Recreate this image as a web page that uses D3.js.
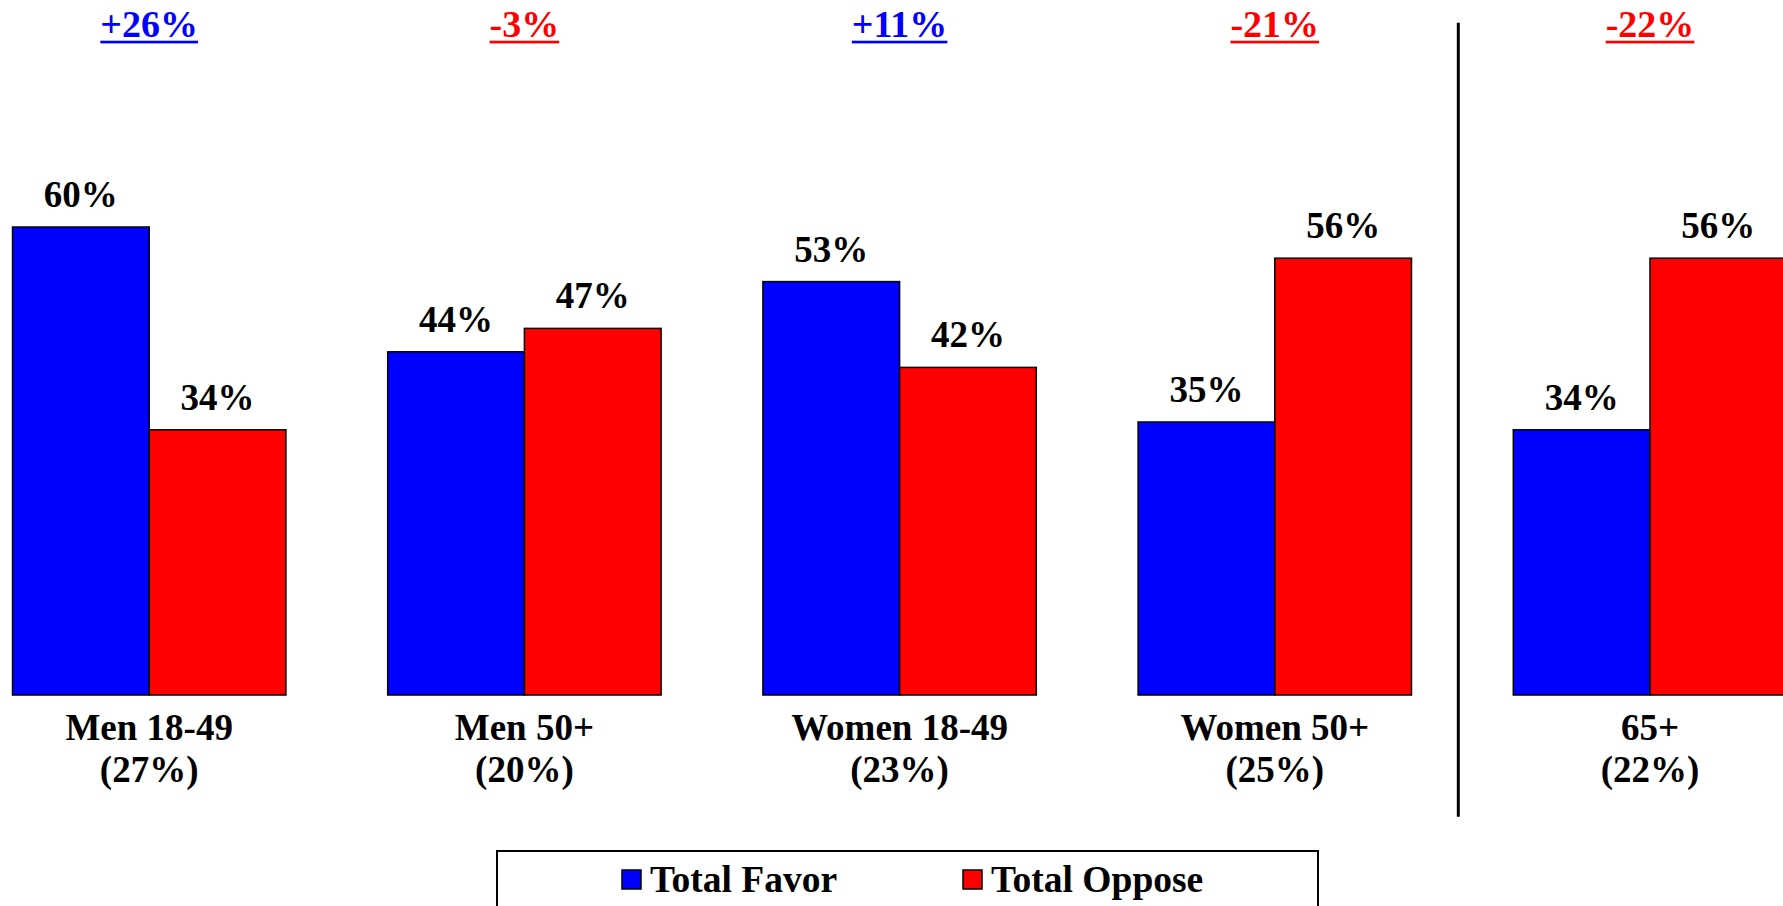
<!DOCTYPE html>
<html>
<head>
<meta charset="utf-8">
<script src="https://cdn.jsdelivr.net/npm/d3@7"></script>
<style>
  html, body { margin: 0; padding: 0; background: #fff; overflow: hidden; }
  svg { display: block; }
  text { font-family: "Liberation Serif", "Times New Roman", Times, serif; font-weight: bold; }
</style>
</head>
<body>
<svg id="chart" width="1783" height="906"></svg>
<script>
// ---- data ----
const categories = ["Men 18-49", "Men 50+", "Women 18-49", "Women 50+", "65+"];
const shares = ["(27%)", "(20%)", "(23%)", "(25%)", "(22%)"];
const seriesNames = ["Total Favor", "Total Oppose"];
const favor = [60, 44, 53, 35, 34];
const oppose = [34, 47, 42, 56, 56];
const seriesColors = ["#0000ff", "#ff0000"];

const svg = d3.select("#chart");

// ---- scales ----
const step = 375.2;
const pIn = (step - 273.4) / step;
const x0 = 12.5;
const x = d3.scaleBand()
  .domain(categories)
  .range([x0, x0 + step * (categories.length - pIn)])
  .paddingInner(pIn)
  .paddingOuter(0);
const xs = d3.scaleBand().domain(seriesNames).range([0, x.bandwidth()]).padding(0);
const y = d3.scaleLinear().domain([0, 60]).range([695, 227]);
const color = d3.scaleOrdinal().domain(seriesNames).range(seriesColors);

const rows = categories.map((c, i) => ({
  cat: c, share: shares[i],
  vals: [{s: seriesNames[0], v: favor[i]}, {s: seriesNames[1], v: oppose[i]}],
  diff: favor[i] - oppose[i]
}));

// ---- bars ----
const g = svg.selectAll("g.grp").data(rows).join("g")
  .attr("class", "grp")
  .attr("transform", d => `translate(${x(d.cat)},0)`);

g.selectAll("rect").data(d => d.vals).join("rect")
  .attr("x", d => xs(d.s))
  .attr("y", d => y(d.v))
  .attr("width", xs.bandwidth())
  .attr("height", d => y(0) - y(d.v))
  .attr("fill", d => color(d.s))
  .attr("stroke", "#000")
  .attr("stroke-width", 1.5);

// value labels
g.selectAll("text.val").data(d => d.vals).join("text")
  .attr("class", "val")
  .attr("x", d => xs(d.s) + xs.bandwidth() / 2)
  .attr("y", d => y(d.v) - 20)
  .attr("text-anchor", "middle")
  .attr("font-size", 37)
  .attr("fill", "#000")
  .text(d => d.v + "%");

// category labels
g.append("text")
  .attr("x", x.bandwidth() / 2)
  .attr("y", 740)
  .attr("text-anchor", "middle")
  .attr("font-size", 37)
  .text(d => d.cat);
g.append("text")
  .attr("x", x.bandwidth() / 2)
  .attr("y", 782)
  .attr("text-anchor", "middle")
  .attr("font-size", 37)
  .text(d => d.share);

// difference labels (underlined)
g.each(function(d) {
  const sel = d3.select(this);
  const col = d.diff > 0 ? "#0000ff" : "#ff0000";
  const t = sel.append("text")
    .attr("x", x.bandwidth() / 2)
    .attr("y", 37.3)
    .attr("text-anchor", "middle")
    .attr("font-size", 38)
    .attr("fill", col)
    .text((d.diff > 0 ? "+" : "") + d.diff + "%");
  const bb = t.node().getBBox();
  sel.append("rect")
    .attr("x", bb.x)
    .attr("y", 40.7)
    .attr("width", bb.width)
    .attr("height", 2.7)
    .attr("fill", col);
});

// separator line between Women 50+ and 65+
const sepX = x(categories[4]) - 55;
svg.append("line")
  .attr("x1", sepX).attr("x2", sepX)
  .attr("y1", 22.7).attr("y2", 816.7)
  .attr("stroke", "#000")
  .attr("stroke-width", 3);

// ---- legend ----
const leg = svg.append("g");
leg.append("rect")
  .attr("x", 497).attr("y", 851)
  .attr("width", 821).attr("height", 100)
  .attr("fill", "#fff")
  .attr("stroke", "#000")
  .attr("stroke-width", 2);
const legX = [622, 963];
seriesNames.forEach((s, i) => {
  leg.append("rect")
    .attr("x", legX[i]).attr("y", 870)
    .attr("width", 19).attr("height", 19)
    .attr("fill", color(s))
    .attr("stroke", "#000")
    .attr("stroke-width", 1.5);
  leg.append("text")
    .attr("x", legX[i] + 28)
    .attr("y", 892)
    .attr("font-size", 37.5)
    .text(s);
});
</script>
</body>
</html>
